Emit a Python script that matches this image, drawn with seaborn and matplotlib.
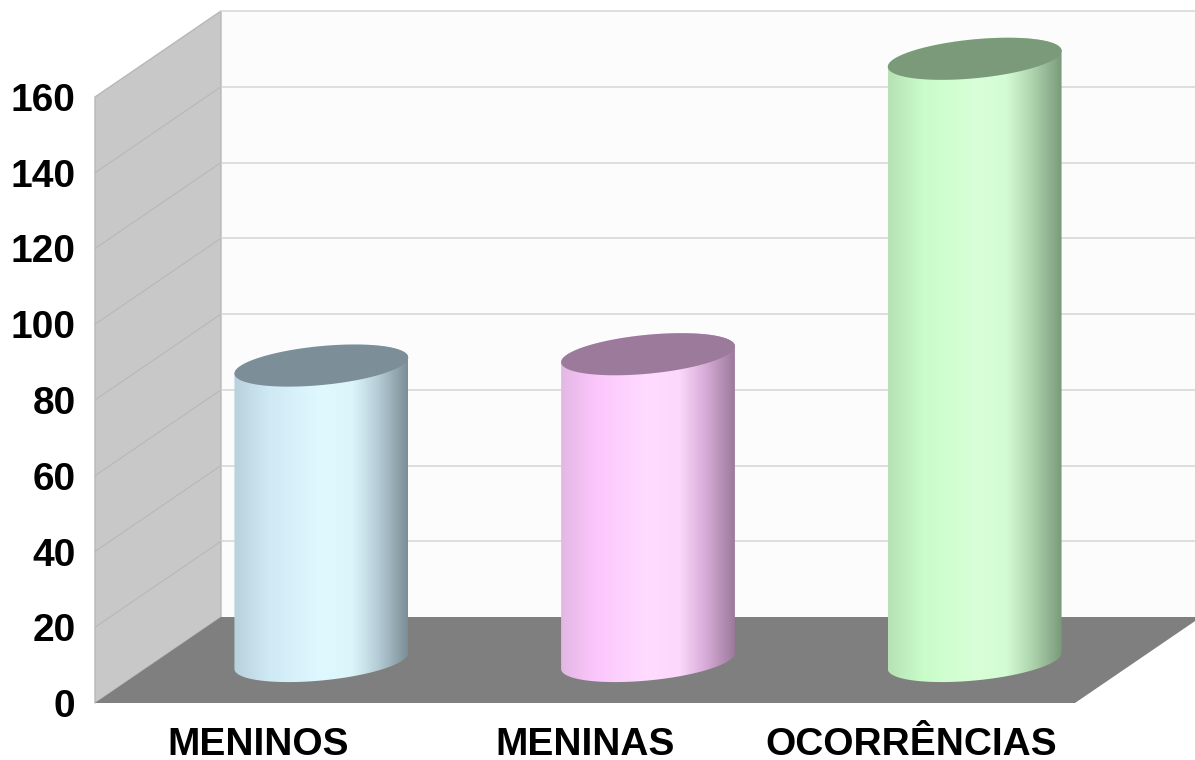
import matplotlib
matplotlib.use("Agg")
import matplotlib.pyplot as plt
from matplotlib.colors import LinearSegmentedColormap
from matplotlib.patches import Polygon
import numpy as np
import seaborn as sns

categories = ["MENINOS", "MENINAS", "OCORRÊNCIAS"]
values = [78, 81, 159]
y_ticks = [0, 20, 40, 60, 80, 100, 120, 140, 160]

top_colors = ["#7c8e98", "#9c7a9c", "#7a9a7a"]
gradients = [
    ["#b8d1dd", "#cfe9f5", "#e0f9ff", "#dcf5fb", "#b5ccd6", "#7c8e98"],
    ["#e3b8e3", "#fcc6fc", "#ffdcff", "#fcd8fc", "#d8acd8", "#9c7a9c"],
    ["#b6e2b6", "#c9fcc9", "#d8ffd8", "#d4fcd4", "#aed4ae", "#7a9a7a"],
]
grad_stops = [0, 0.2, 0.5, 0.68, 0.83, 1]

W, H = 1195, 760
LEFT, RIGHT, BASE, TOP = 95, 1075, 703, 97

sns.set_theme(style="white")
plt.rcParams["font.family"] = ["Liberation Sans", "DejaVu Sans"]

fig = plt.figure(figsize=(W / 100, H / 100), dpi=100, facecolor="white")
ax = fig.add_axes([LEFT / W, (H - BASE) / H, (RIGHT - LEFT) / W, (BASE - TOP) / H])
sns.barplot(x=categories, y=values, width=0.532, ax=ax)
ax.set_facecolor("none")
ax.set_xlim(-0.5, 2.5)
ax.set_ylim(0, 160)

# pixel sizes turned into data units, depth goes right and up
px_x = 3 / (RIGHT - LEFT)
px_y = 160 / (BASE - TOP)
depth_x = 126 * px_x
depth_y = 86 * px_y

# walls and floor
ax.add_patch(Polygon([(-0.5 + depth_x, depth_y), (2.5 + depth_x, depth_y),
                      (2.5 + depth_x, 160 + depth_y), (-0.5 + depth_x, 160 + depth_y)],
                     fc="#fcfcfc", ec="none", clip_on=False, zorder=0))
ax.add_patch(Polygon([(-0.5, 0), (-0.5 + depth_x, depth_y),
                      (-0.5 + depth_x, 160 + depth_y), (-0.5, 160)],
                     fc="#c8c8c8", ec="#b8b8b8", lw=1, clip_on=False, zorder=1))
ax.add_patch(Polygon([(-0.5, 0), (2.5, 0), (2.5 + depth_x, depth_y), (-0.5 + depth_x, depth_y)],
                     fc="#7f7f7f", ec="none", clip_on=False, zorder=3))
for t in y_ticks[1:]:
    ax.plot([-0.5 + depth_x, 2.5 + depth_x], [t + depth_y, t + depth_y], color="#d9d9d9",
            lw=1.2, clip_on=False, zorder=2)
    if t < 160:
        ax.plot([-0.5, -0.5 + depth_x], [t, t + depth_y], color="#b8b8b8", lw=0.8,
                clip_on=False, zorder=2)

# cylinders, geometry taken from the bars seaborn made
for i, patch in enumerate(ax.patches[:len(categories)]):
    patch.set_visible(False)
    half = patch.get_width() / 2
    cx = patch.get_x() + half + depth_x / 2
    y0 = depth_y / 2 - 1 * px_y
    y1 = y0 + patch.get_height()
    shear = 8 * px_y
    minor = 19.5 * px_y

    def ring(t, cy):
        return cx + half * np.cos(t), cy + shear * np.cos(t) + minor * np.sin(t)

    t_low = np.linspace(np.pi, 2 * np.pi, 80)
    t_up = np.linspace(0, np.pi, 80)
    xb, yb = ring(t_low, y0)
    xt, yt = ring(t_up, y1)
    body = Polygon(np.column_stack([np.r_[xb, xt], np.r_[yb, yt]]), fc="none", ec="none",
                   transform=ax.transData)
    ax.add_patch(body)

    cmap = LinearSegmentedColormap.from_list("cyl", list(zip(grad_stops, gradients[i])))
    img = ax.imshow(np.linspace(0, 1, 256)[None, :], cmap=cmap, aspect="auto",
                    extent=[cx - half, cx + half, y0 - 10, y1 + 10], zorder=4)
    img.set_clip_path(body)
    # the tallest cylinder goes above the axes box
    img.set_clip_box(fig.bbox)

    t_all = np.linspace(0, 2 * np.pi, 160)
    ax.add_patch(Polygon(np.column_stack(ring(t_all, y1)), fc=top_colors[i], ec="none",
                         clip_on=False, zorder=5))

ax.set_xlim(-0.5, 2.5)
ax.set_ylim(0, 160)
ax.set_yticks(y_ticks)
ax.tick_params(axis="both", length=0)
ax.tick_params(axis="y", labelsize=28, pad=14)
ax.tick_params(axis="x", labelsize=28, pad=17)
for lab in ax.get_xticklabels() + ax.get_yticklabels():
    lab.set_fontweight("bold")
    lab.set_color("black")
ax.grid(False)
sns.despine(ax=ax, left=True, bottom=True)

fig.savefig("out.png", dpi=100)
